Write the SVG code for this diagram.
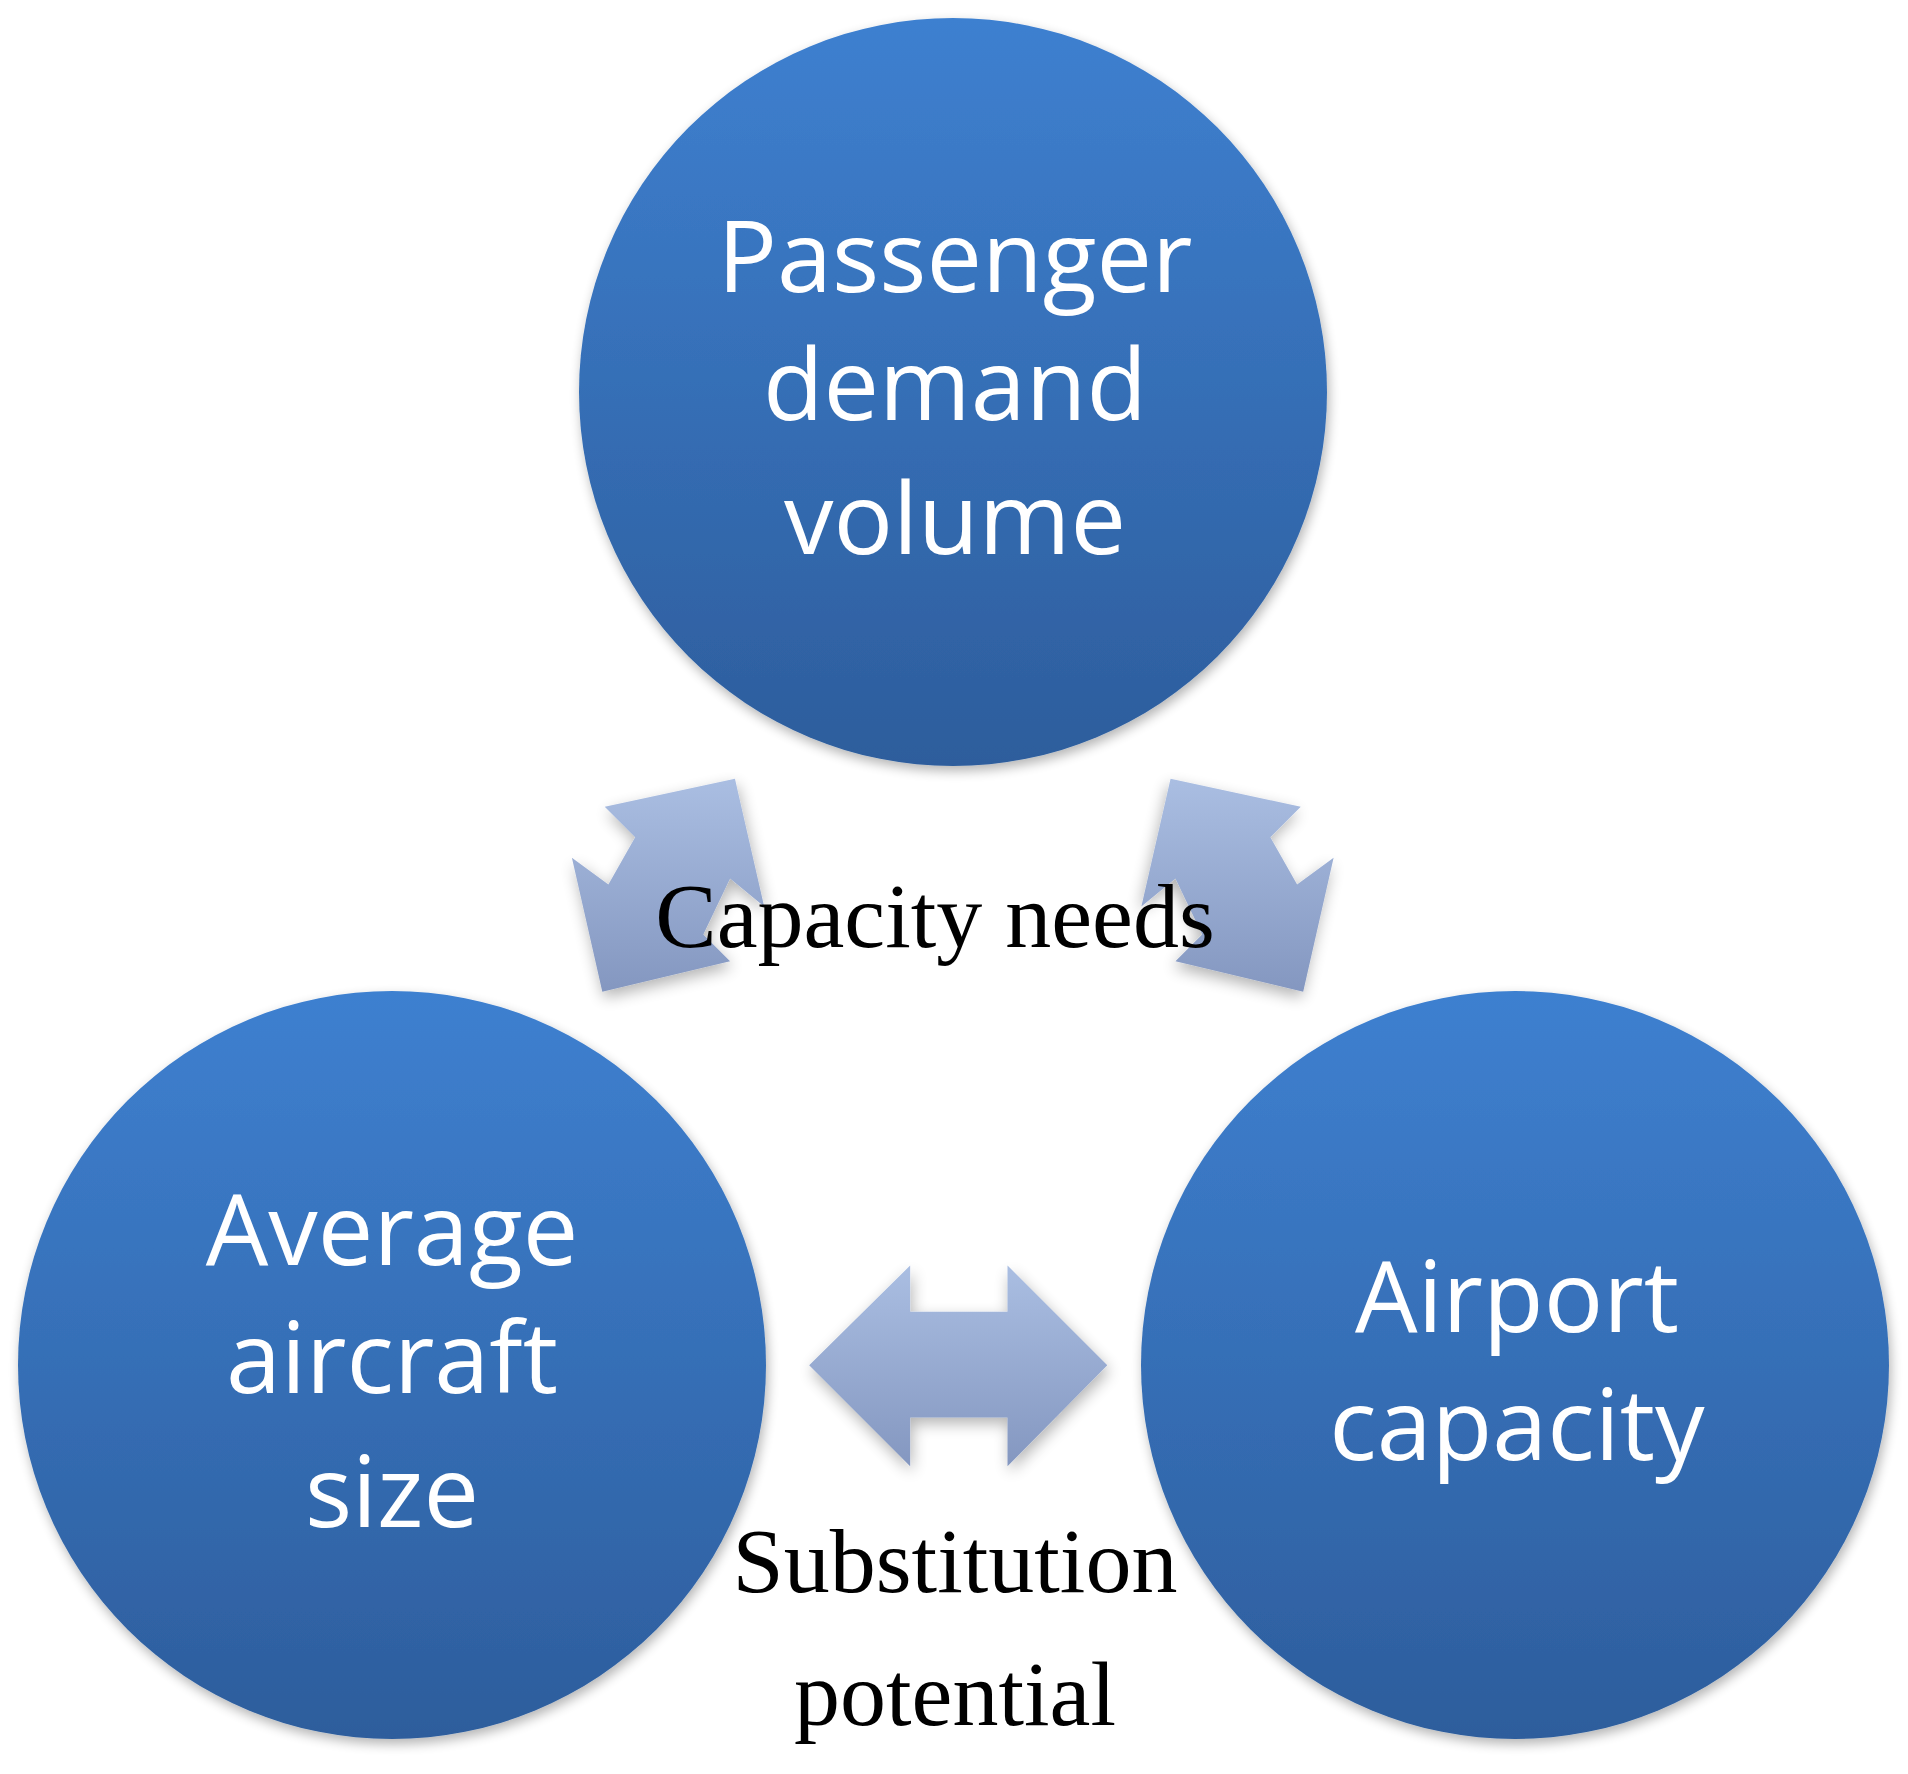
<svg xmlns="http://www.w3.org/2000/svg" width="1908" height="1774" viewBox="0 0 1908 1774">
<defs>
<linearGradient id="cg" x1="0" y1="0" x2="0" y2="1"><stop offset="0" stop-color="#3e80d0"/><stop offset="1" stop-color="#2d5d9c"/></linearGradient>
<linearGradient id="ag" x1="0" y1="0" x2="0" y2="1"><stop offset="0" stop-color="#aabee2"/><stop offset="1" stop-color="#8497c0"/></linearGradient>
<filter id="sh" x="-10%" y="-10%" width="120%" height="120%"><feGaussianBlur in="SourceAlpha" stdDeviation="6"/><feOffset dx="2" dy="5"/><feComponentTransfer><feFuncA type="linear" slope="0.3"/></feComponentTransfer><feMerge><feMergeNode/><feMergeNode in="SourceGraphic"/></feMerge></filter>
<style>
.c{fill:url(#cg);filter:url(#sh)}
.t{font-family:"Open Sans","Noto Sans",sans-serif;font-size:99px;fill:#fff;text-anchor:middle}
.l{font-family:"Liberation Serif",serif;font-size:92px;fill:#000;text-anchor:middle}
.a{fill:url(#ag);filter:url(#sh)}
</style>
</defs>
<g id="connectors" transform="scale(1.2168)">
<polygon class="a" points="497,663 604,640 628,745 600,722 578,768 600,790 495,815 470,705 500,727 522,688"/>
<polygon class="a" transform="translate(1566,0) scale(-1,1)" points="497,663 604,640 628,745 600,722 578,768 600,790 495,815 470,705 500,727 522,688"/>
<polygon class="a" points="665,1122 748,1040 748,1078 828,1078 828,1040 910,1122 828,1205 828,1165 748,1165 748,1205"/>
</g>
<g id="top"><circle class="c" cx="953" cy="392" r="374"/>
<text class="t" x="955" y="292">Passenger</text><text class="t" x="955" y="420">demand</text><text class="t" x="955" y="554">volume</text></g>
<g id="left"><circle class="c" cx="392" cy="1365" r="374"/>
<text class="t" x="392" y="1265">Average</text><text class="t" x="392" y="1393">aircraft</text><text class="t" x="392" y="1527">size</text></g>
<g id="right"><circle class="c" cx="1515" cy="1365" r="374"/>
<text class="t" x="1517" y="1332">Airport</text><text class="t" x="1517" y="1460">capacity</text></g>
<g id="labels">
<text class="l" x="935" y="947">Capacity needs</text>
<text class="l" x="955" y="1592">Substitution</text>
<text class="l" x="955" y="1725">potential</text>
</g>
</svg>
